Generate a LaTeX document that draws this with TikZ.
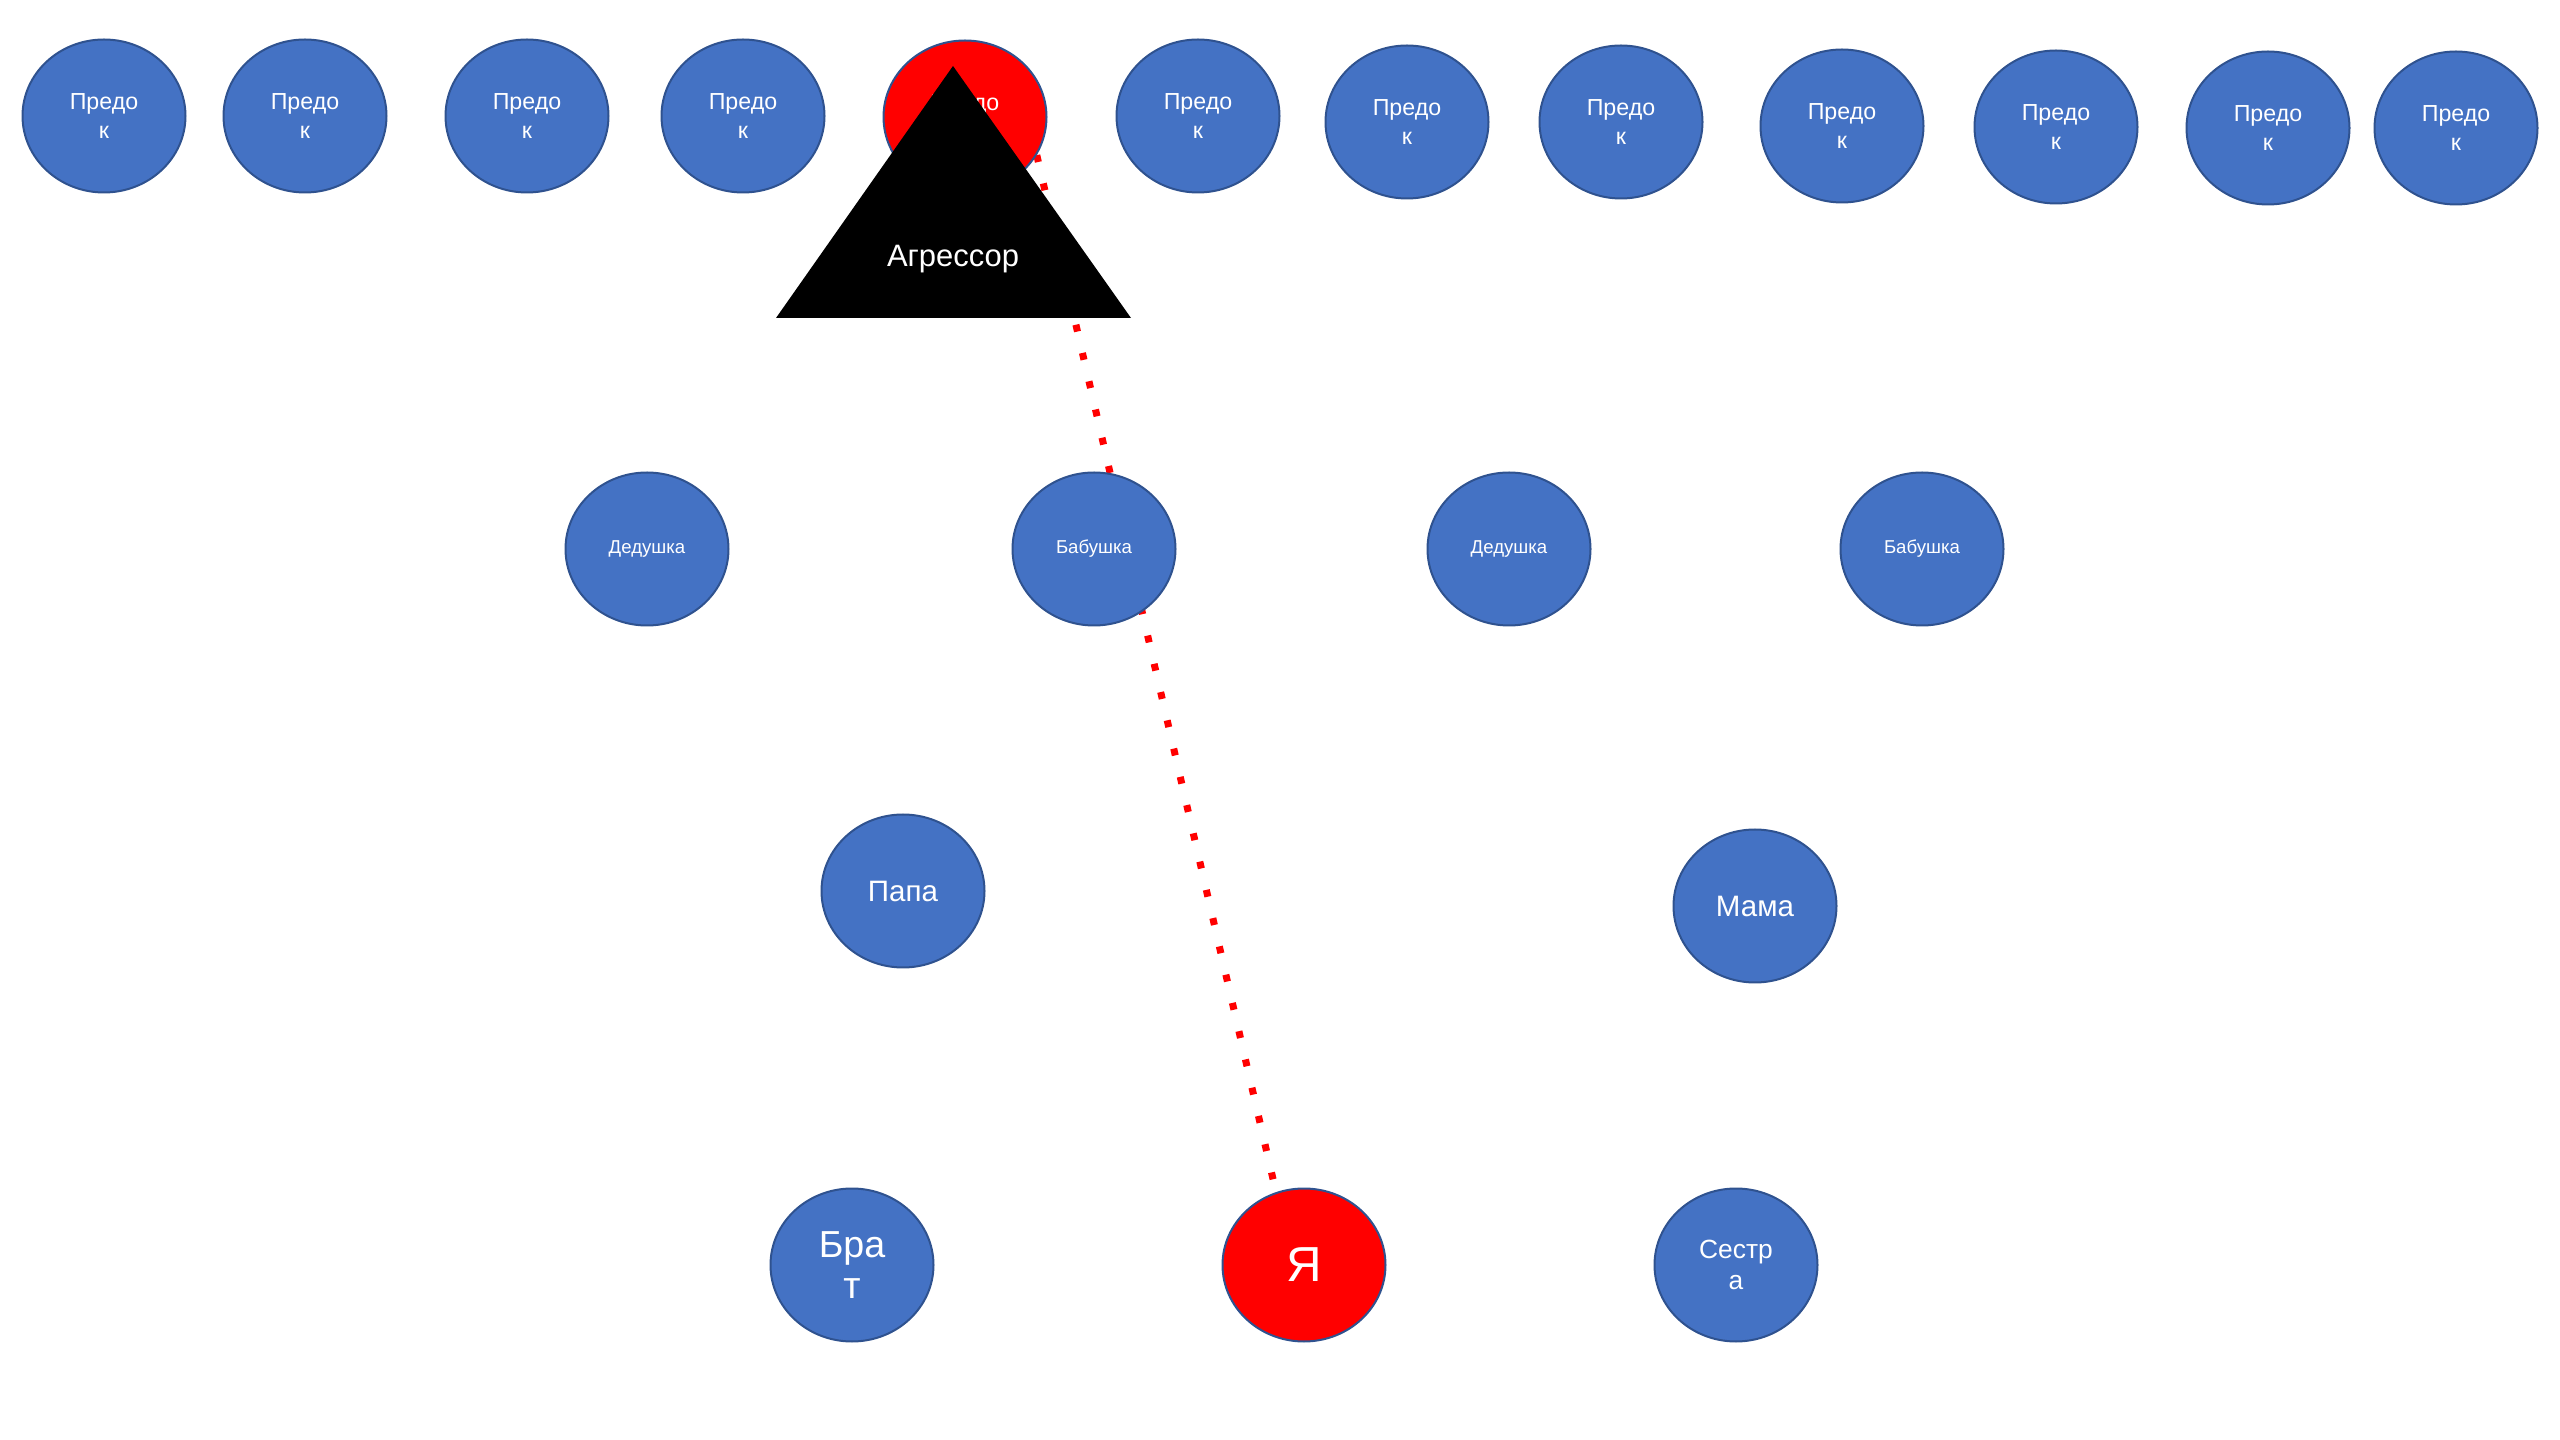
\documentclass[tikz,border=0pt]{standalone}
\usepackage{fontspec}
\setmainfont{Liberation Sans}
\usepackage{xcolor}
\usepackage{tikz}
\usetikzlibrary{shapes.geometric}
\definecolor{fillblue}{HTML}{4472C4}
\definecolor{edgeblue}{HTML}{2F528F}
\definecolor{hot}{HTML}{FF0000}
\pgfdeclarelayer{bg}
\pgfsetlayers{bg,main}
\tikzset{
  person/.style={ellipse, draw=edgeblue, fill=fillblue, line width=0.02cm,
    minimum width=1.63cm, minimum height=1.53cm, inner sep=0pt,
    text=white, align=center},
  anc/.style={person, font=\fontsize{6.6}{8.3}\selectfont},
  grand/.style={person, font=\fontsize{5.3}{6.4}\selectfont},
  parent/.style={person, font=\fontsize{8.4}{10}\selectfont},
  marked/.style={fill=hot},
  trace/.style={draw=hot, line width=0.07cm, dash pattern=on 0.07cm off 0.22cm},
  lab/.style={text=white, font=\fontsize{8.8}{10.5}\selectfont},
}

\begin{document}
\begin{tikzpicture}[x=0.1mm, y=-0.1mm]
\useasboundingbox (0,0) rectangle (2560,1440);

% ancestors
\node[anc] (p1)  at (104,116)  {Предо\\к};
\node[anc] (p2)  at (305,116)  {Предо\\к};
\node[anc] (p3)  at (527,116)  {Предо\\к};
\node[anc] (p4)  at (743,116)  {Предо\\к};
\node[anc, marked] (p5) at (965,117) {Предо\\к};
\node[anc] (p6)  at (1198,116) {Предо\\к};
\node[anc] (p7)  at (1407,122) {Предо\\к};
\node[anc] (p8)  at (1621,122) {Предо\\к};
\node[anc] (p9)  at (1842,126) {Предо\\к};
\node[anc] (p10) at (2056,127) {Предо\\к};
\node[anc] (p11) at (2268,128) {Предо\\к};
\node[anc] (p12) at (2456,128) {Предо\\к};

% grandparents
\node[grand] (g1) at (647,549)  {Дедушка};
\node[grand] (g2) at (1094,549) {Бабушка};
\node[grand] (g3) at (1509,549) {Дедушка};
\node[grand] (g4) at (1922,549) {Бабушка};

% parents
\node[parent] (dad) at (903,891)  {Папа};
\node[parent] (mom) at (1755,906) {Мама};

% children
\node[person, font=\fontsize{10.7}{11.7}\selectfont] (bro) at (852,1265) {Бра\\т};
\node[person, marked, font=\fontsize{14}{16}\selectfont] (me) at (1304,1265) {Я};
\node[person, font=\fontsize{7.5}{9}\selectfont] (sis) at (1736,1265) {Сестр\\а};

% line of descent, behind the nodes
\begin{pgfonlayer}{bg}
\draw[trace] (p5.-28) -- (me.111);
\end{pgfonlayer}

% aggressor mark
\fill[black] (953,66) -- (1131,318) -- (776,318) -- cycle;
\node[lab, anchor=base] (aggr) at (953,267) {Агрессор};
\end{tikzpicture}
\end{document}
